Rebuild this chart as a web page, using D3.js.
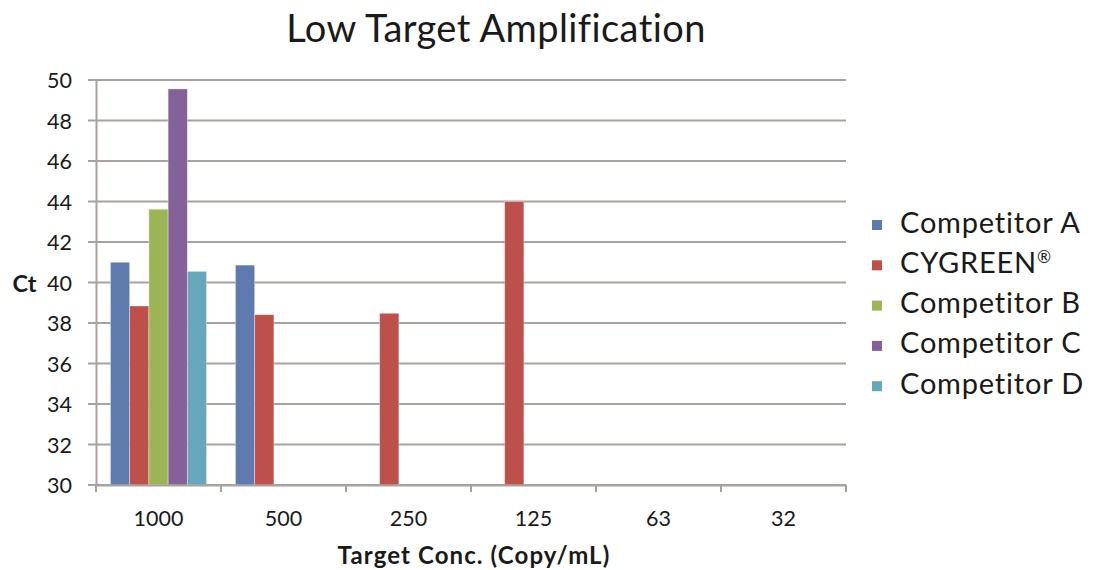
<!DOCTYPE html>
<html>
<head>
<meta charset="utf-8">
<script src="https://cdn.jsdelivr.net/npm/d3@7"></script>
<style>
  html, body { margin: 0; padding: 0; background: #fff; }
  svg { display: block; }
  text { font-family: Lato, "Open Sans", sans-serif; fill: #1a1a1a; }
</style>
</head>
<body>
<svg id="chart" width="1095" height="570"></svg>
<script>
// Ct values per target concentration; null = no amplification
const categories = ["1000", "500", "250", "125", "63", "32"];
const seriesNames = ["Competitor A", "CYGREEN\u00AE", "Competitor B", "Competitor C", "Competitor D"];
const competitorA = [41.0, 40.86, null, null, null, null];
const cygreen     = [38.84, 38.41, 38.48, 44.0, null, null];
const competitorB = [43.62, null, null, null, null, null];
const competitorC = [49.56, null, null, null, null, null];
const competitorD = [40.55, null, null, null, null, null];
const yTicks = [30, 32, 34, 36, 38, 40, 42, 44, 46, 48, 50];
const colors = ["#5f7aaf", "#bd504a", "#9bb554", "#85619a", "#66a7b9"];

const seriesValues = [competitorA, cygreen, competitorB, competitorC, competitorD];

const svg = d3.select("#chart");
const plot = { left: 96, right: 846, top: 80, bottom: 485 };
const gridColor = "#a8a19e";
const fontStack = "Lato, 'Open Sans', sans-serif";

const x = d3.scaleBand().domain(categories).range([plot.left, plot.right]).padding(0);
const y = d3.scaleLinear().domain([30, 50]).range([plot.bottom, plot.top]);

// 150% gap between clusters, bars touching inside a cluster
const barW = x.bandwidth() / (seriesNames.length + 1.5);
const inner = d3.scaleBand().domain(d3.range(seriesNames.length))
  .range([barW * 0.75, barW * 0.75 + barW * seriesNames.length]).padding(0);

// horizontal gridlines (extending left as tick marks)
svg.append("g").selectAll("line").data(yTicks).join("line")
  .attr("x1", plot.left - 8).attr("x2", plot.right)
  .attr("y1", d => y(d)).attr("y2", d => y(d))
  .attr("stroke", gridColor).attr("stroke-width", 2);

// y axis
const yAxis = d3.axisLeft(y).tickValues(yTicks).tickSize(0).tickPadding(24);
const gy = svg.append("g").attr("transform", `translate(${plot.left},0)`).call(yAxis);
gy.select(".domain").attr("stroke", gridColor).attr("stroke-width", 2);
gy.selectAll("text").style("font-size", "21.5px").attr("fill", "#1a1a1a")
  .style("font-family", fontStack).attr("dy", "0.36em");

// bars
const groups = svg.append("g").selectAll("g").data(seriesValues).join("g")
  .attr("fill", (d, i) => colors[i]);
groups.each(function (vals, si) {
  d3.select(this).selectAll("rect")
    .data(vals.map((v, ci) => ({ v, c: categories[ci] })).filter(d => d.v != null))
    .join("rect")
    .attr("x", d => x(d.c) + inner(si))
    .attr("width", inner.bandwidth())
    .attr("y", d => y(d.v))
    .attr("height", d => y(30) - y(d.v))
    .attr("stroke", "rgba(255,255,255,0.45)")
    .attr("stroke-width", 0.8);
});

// x axis
const xAxis = d3.axisBottom(x).tickSize(0).tickPadding(26);
const gx = svg.append("g").attr("transform", `translate(0,${plot.bottom})`).call(xAxis);
gx.select(".domain").attr("stroke", gridColor).attr("stroke-width", 2);
gx.selectAll("text").style("font-size", "21.5px").attr("fill", "#1a1a1a")
  .style("font-family", fontStack);
// category boundary ticks
const bounds = categories.map(c => x(c)).concat([plot.right]);
svg.append("g").selectAll("line").data(bounds).join("line")
  .attr("x1", d => d).attr("x2", d => d)
  .attr("y1", plot.bottom).attr("y2", plot.bottom + 7)
  .attr("stroke", gridColor).attr("stroke-width", 2);

// title
svg.append("text").attr("x", 496).attr("y", 42).attr("text-anchor", "middle")
  .style("font-size", "38px").style("letter-spacing", "0.4px")
  .text("Low Target Amplification");

// axis titles
svg.append("text").attr("x", 474).attr("y", 564).attr("text-anchor", "middle")
  .style("font-size", "24px").style("font-weight", "bold").style("letter-spacing", "1.1px")
  .text("Target Conc. (Copy/mL)");
svg.append("text").attr("x", 24.5).attr("y", 292).attr("text-anchor", "middle")
  .style("font-size", "23.5px").style("font-weight", "bold").text("Ct");

// legend
const legend = svg.append("g").selectAll("g").data(seriesNames).join("g")
  .attr("transform", (d, i) => `translate(872,${225 + i * 40.3})`);
legend.append("rect").attr("x", 0).attr("y", -5).attr("width", 10).attr("height", 10)
  .attr("fill", (d, i) => colors[i]);
const legendText = legend.append("text").attr("x", 28).attr("y", 7.5)
  .style("font-size", "29px").style("letter-spacing", "0.8px");
// registered mark drawn as a small superscript
legendText.each(function (d) {
  const t = d3.select(this);
  const parts = d.split("\u00AE");
  t.append("tspan").text(parts[0]);
  if (parts.length > 1) {
    t.append("tspan").attr("dy", "-0.55em").style("font-size", "17px").text("\u00AE");
  }
});
</script>
</body>
</html>
